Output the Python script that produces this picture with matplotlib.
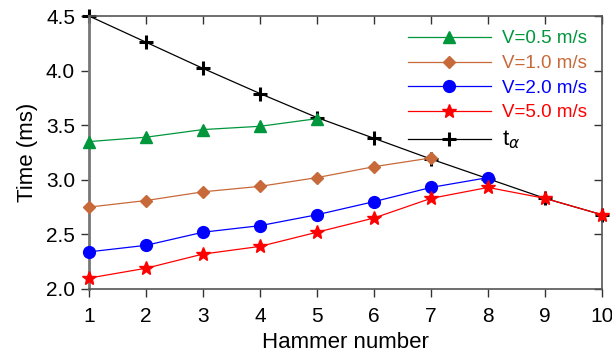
import matplotlib
matplotlib.use("Agg")
import matplotlib.pyplot as plt

plt.rcParams['font.family'] = ['Liberation Sans', 'DejaVu Sans']
plt.rcParams['mathtext.fontset'] = 'dejavusans'

hammer = [1, 2, 3, 4, 5, 6, 7, 8, 9, 10]
v05 = [3.35, 3.39, 3.46, 3.49, 3.56]
v10 = [2.75, 2.81, 2.89, 2.94, 3.02, 3.12, 3.20]
v20 = [2.34, 2.40, 2.52, 2.58, 2.68, 2.80, 2.93, 3.02]
v50 = [2.10, 2.19, 2.32, 2.39, 2.52, 2.65, 2.83, 2.93, 2.83, 2.68]
t_alpha = [4.50, 4.26, 4.02, 3.79, 3.57, 3.38, 3.19, 3.01, 2.83, 2.68]

labels = ['V=0.5 m/s', 'V=1.0 m/s', 'V=2.0 m/s', 'V=5.0 m/s', r'$\mathregular{t}_{\alpha}$']
colors = ['#00963C', '#C8693A', '#0000FF', '#FF0000', '#000000']

fig = plt.figure(figsize=(6.12, 3.56), dpi=100)
ax = fig.add_axes([89/612, 1 - 289/356, (602-89)/612, (289-16)/356])

kw = dict(lw=0.9, clip_on=False)
h1, = ax.plot(hammer[:len(v05)], v05, color=colors[0], marker='^', ms=8, zorder=3, **kw)
h2, = ax.plot(hammer[:len(v10)], v10, color=colors[1], marker='D', ms=6.5, zorder=3, **kw)
h3, = ax.plot(hammer[:len(v20)], v20, color=colors[2], marker='o', ms=8.5, zorder=3, **kw)
h4, = ax.plot(hammer[:len(v50)], v50, color=colors[3], marker='*', ms=10, zorder=4, **kw)
h5, = ax.plot(hammer, t_alpha, color=colors[4], marker='+', ms=10, mew=2.2, zorder=2, **kw)

ax.set_xlim(1, 10)
ax.set_ylim(2.0, 4.5)
ax.set_xticks(hammer)
ax.set_yticks([2.0, 2.5, 3.0, 3.5, 4.0, 4.5])
ax.set_yticklabels(['2.0', '2.5', '3.0', '3.5', '4.0', '4.5'])
ax.tick_params(axis='both', labelsize=15, length=6, width=1, color='#333333')
ax.tick_params(axis='x', direction='out', top=True, pad=7)
ax.tick_params(axis='y', direction='out', right=True, pad=4)
for t in ax.xaxis.get_major_ticks():
    t.tick2line.set_marker(3)  # pointing down from top spine
for t in ax.yaxis.get_major_ticks():
    t.tick2line.set_marker(0)  # pointing left from right spine
for s in ax.spines.values():
    s.set_color('#555555')
    s.set_linewidth(1.2)
ax.spines['left'].set_color('#777777')
ax.spines['left'].set_linewidth(2)

ax.set_xlabel('Hammer number', fontsize=16, labelpad=4)
ax.set_ylabel('Time (ms)', fontsize=16, labelpad=6)

leg = ax.legend([h1, h2, h3, h4, h5], labels, loc='upper right', frameon=False,
                fontsize=13.5, handlelength=4.4, labelspacing=0.4,
                bbox_to_anchor=(0.985, 0.975), borderaxespad=0, handletextpad=0.6)
for txt, c in zip(leg.get_texts(), colors):
    txt.set_color(c)
leg.get_texts()[-1].set_fontsize(16)

fig.savefig('out.png', dpi=100)
